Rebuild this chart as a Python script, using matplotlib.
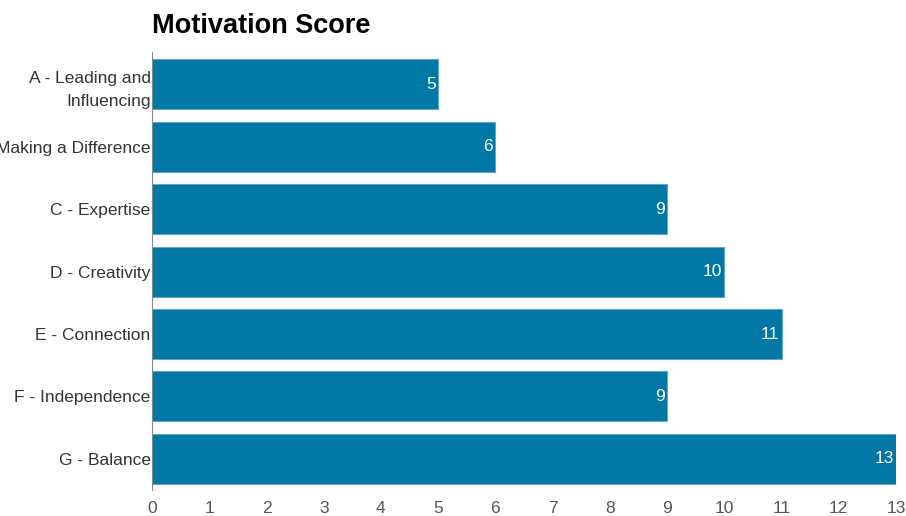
import matplotlib.pyplot as plt

plt.rcParams['font.family'] = ['Liberation Sans', 'DejaVu Sans']

categories = ['A - Leading and\nInfluencing', 'B - Making a Difference', 'C - Expertise',
              'D - Creativity', 'E - Connection', 'F - Independence', 'G - Balance']
scores = [5, 6, 9, 10, 11, 9, 13]
xticks = list(range(0, 14))

fig = plt.figure(figsize=(9.06, 5.16), dpi=100)
ax = fig.add_axes([152 / 906, 1 - 490 / 516, 744 / 906, 438 / 516])

pos = list(range(len(categories)))
ax.barh(pos, scores, height=0.8, color='#0077a5', edgecolor='#5fa8c9', linewidth=0.8)

# value labels inside bar ends
for p, s in zip(pos, scores):
    ax.text(s - 0.04, p, str(s), ha='right', va='center', color='white', fontsize=12.5)

ax.set_yticks(pos)
ax.set_yticklabels(categories, fontsize=12.5, color='#333333', linespacing=1.65)
ax.set_ylim(len(categories) - 0.5, -0.52)
ax.set_xlim(0, 13)
ax.set_xticks(xticks)
ax.set_xticklabels([str(t) for t in xticks], fontsize=12.5, color='#555555')
ax.tick_params(axis='y', length=0, pad=1)
ax.tick_params(axis='x', length=0, pad=8)

for side in ['top', 'right', 'bottom']:
    ax.spines[side].set_visible(False)
ax.spines['left'].set_color('#888888')
ax.spines['left'].set_linewidth(0.8)

fig.text(152 / 906, 1 - 26 / 516, 'Motivation Score', fontsize=19.5, fontweight='bold',
         ha='left', va='center')

plt.savefig('out.png', dpi=100)
